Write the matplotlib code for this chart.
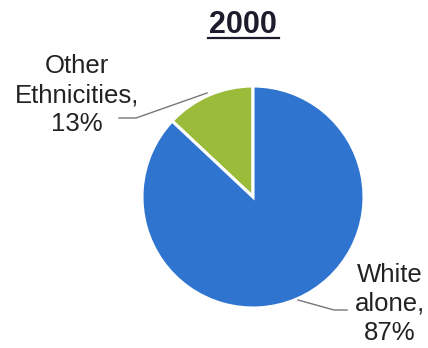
#!/usr/bin/env python3
"""Pie chart: population by ethnicity, 2000."""

import matplotlib.pyplot as plt

labels = ["Other\nEthnicities,\n13%", "White\nalone,\n87%"]
shares = [13, 87]
colors = ["#9BBB3A", "#2F74CF"]
title = "2000"

W, H = 428, 348
fig = plt.figure(figsize=(W / 100, H / 100), dpi=100)
ax = fig.add_axes([0, 0, 1, 1])
ax.set_xlim(0, W)
ax.set_ylim(0, H)
ax.set_aspect("equal")
ax.axis("off")

plt.rcParams["font.family"] = ["Liberation Sans", "DejaVu Sans"]

ax.pie(shares, colors=colors, startangle=90, counterclock=True,
       center=(253, 151), radius=111, frame=True,
       wedgeprops=dict(edgecolor="white", linewidth=2.2))
ax.set_xlim(0, W)
ax.set_ylim(0, H)
ax.axis("off")

# title, underlined
ax.text(243, 323, title, ha="center", va="center", fontsize=22,
        fontweight="bold", color="#1c1c2c", family="Liberation Sans")
ax.plot([208, 279], [310, 310], color="#1c1c2c", lw=1.6)

# labels with leader lines
ax.text(77, 253, labels[0], ha="center", va="center", fontsize=18.5,
        color="#222222", linespacing=1.25, family="Liberation Sans")
ax.plot([119, 136, 207], [230, 230, 255], color="#777777", lw=1)

ax.text(390, 44, labels[1], ha="center", va="center", fontsize=18.5,
        color="#222222", linespacing=1.25, family="Liberation Sans")
ax.plot([298, 334, 347], [48, 38, 38], color="#777777", lw=1)

fig.savefig("out.png", dpi=100)
